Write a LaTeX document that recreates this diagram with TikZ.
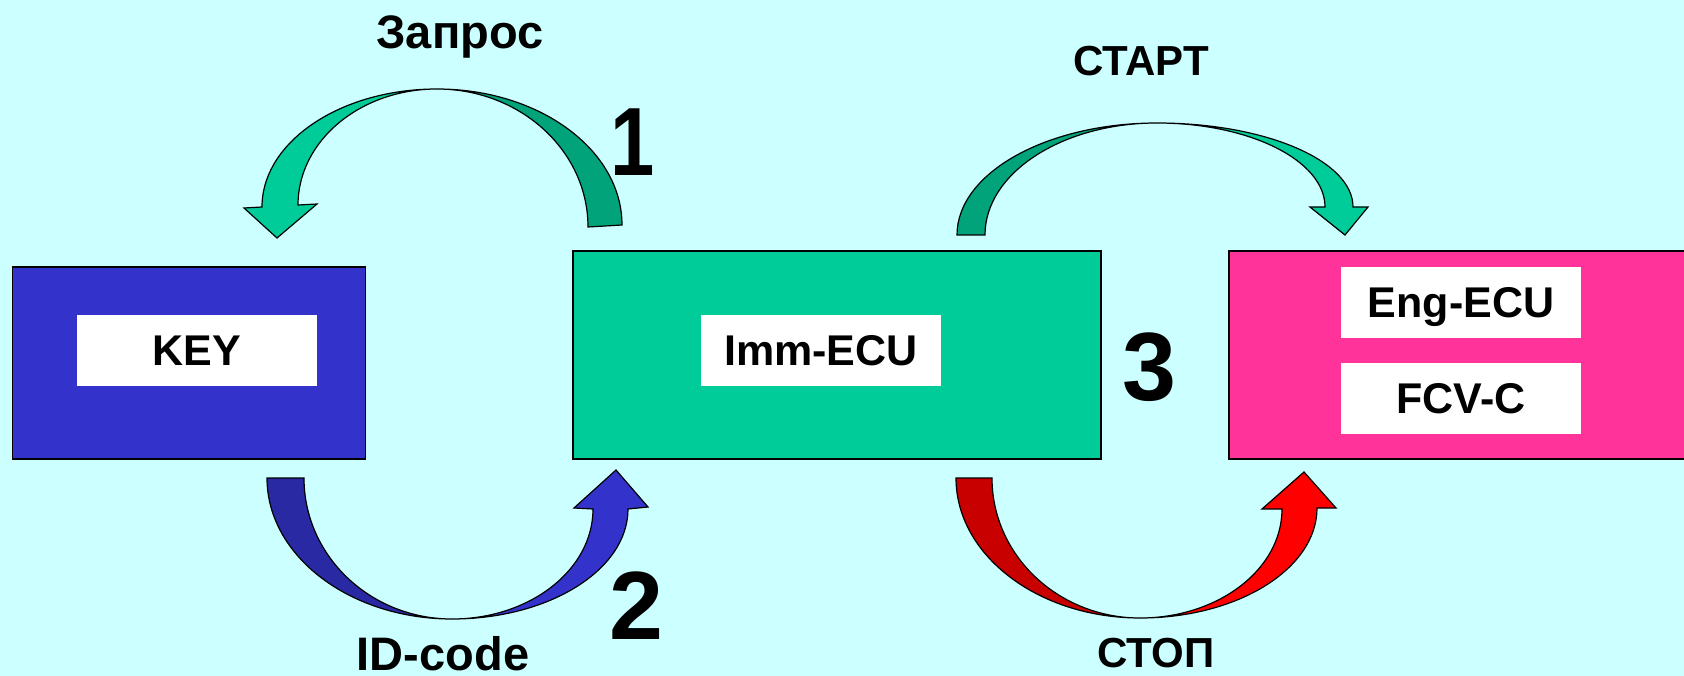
\documentclass[tikz,border=0pt]{standalone}
\usepackage{fontspec}
\setmainfont{Liberation Sans}
\usetikzlibrary{calc}
\definecolor{bg}{HTML}{CCFFFF}
\definecolor{keyblue}{HTML}{3333CC}
\definecolor{darkblue}{HTML}{2929A3}
\definecolor{ecugreen}{HTML}{00CC99}
\definecolor{darkgreen}{HTML}{00A37A}
\definecolor{engpink}{HTML}{FF3399}
\definecolor{lightred}{HTML}{FF0000}
\definecolor{darkred}{HTML}{C80000}
% quarter ellipse: from a horizontal-tangent point to a vertical-tangent point
\newcommand{\qa}[2]{.. controls ($(#1)!0.5523!(#1-|#2)$) and ($(#2)!0.5523!(#1-|#2)$) .. (#2)}
% quarter ellipse: from a vertical-tangent point to a horizontal-tangent point
\newcommand{\qb}[2]{.. controls ($(#1)!0.5523!(#2-|#1)$) and ($(#2)!0.5523!(#2-|#1)$) .. (#2)}
\begin{document}
\begin{tikzpicture}[x=1pt,y=-1pt,
  box/.style={draw=black,line width=1.5pt,inner sep=0pt},
  whitebox/.style={fill=white,inner sep=0pt,minimum width=240pt,minimum height=70.5pt,
    text height=31pt,text depth=0pt,font=\fontsize{43pt}{43pt}\selectfont\bfseries},
  lbl/.style={anchor=base,inner sep=0pt},
  lblmid/.style={lbl,font=\fontsize{42pt}{42pt}\selectfont\bfseries},
  lblbig/.style={lbl,font=\fontsize{47pt}{47pt}\selectfont\bfseries},
  num/.style={lbl,font=\fontsize{97pt}{97pt}\selectfont\bfseries},
  band/.style={draw=black,line width=1.2pt,line join=miter}]
\fill[bg] (0,0) rectangle (1684,676);
\useasboundingbox (0,0) rectangle (1684,676);
\clip (0,0) rectangle (1684,676);

% main boxes
\node[box,fill=keyblue,minimum width=353pt,minimum height=192pt] (keybox) at (189,362.8) {};
\node[box,fill=ecugreen,minimum width=528pt,minimum height=208pt] (immbox) at (837,355) {};
\node[box,fill=engpink,minimum width=471pt,minimum height=208pt] (engbox) at (1464.5,355) {};

\node[whitebox] (key) at (197,350.3) {KEY};
\node[whitebox] (imm) at (821,350.3) {Imm-ECU};
\node[whitebox] (eng) at (1461,302.3) {Eng-ECU};
\node[whitebox] (fcv) at (1461,398.3) {FCV-C};

% labels
\node[lblbig] (zapros) at (460,49) {Запрос};
\node[num] (n1) at (633,176) {\scalebox{0.82}[1]{1}};
\node[lblmid] (start) at (1141,76) {СТАРТ};
\node[num] (n3) at (1149,400) {3};
\node[num] (n2) at (636,639) {2};
\node[lblbig] (idcode) at (443,670.5) {ID-code};
\node[lblmid] (stop) at (1156,667) {СТОП};

% arrow 1 (Imm-ECU -> KEY, top)
\coordinate (a1A) at (437,89);
\coordinate (a1Do) at (622,225); \coordinate (a1Di) at (588,227);
\coordinate (a1Lo) at (262,207); \coordinate (a1Li) at (298,205);
\coordinate (a1Bo) at (244,208); \coordinate (a1T) at (277,238); \coordinate (a1Bi) at (317,204);
\draw[band,fill=ecugreen] (a1A) \qa{a1A}{a1Lo} -- (a1Bo) -- (a1T) -- (a1Bi) -- (a1Li) \qb{a1Li}{a1A} -- cycle;
\draw[band,fill=darkgreen] (a1A) \qa{a1A}{a1Do} -- (a1Di) \qb{a1Di}{a1A} -- cycle;

% arrow 2 (KEY -> Imm-ECU, bottom)
\coordinate (a2A) at (452,619);
\coordinate (a2Do) at (267,478); \coordinate (a2Di) at (304,478);
\coordinate (a2Lo) at (628,509); \coordinate (a2Li) at (593,509);
\coordinate (a2Bo) at (648,507); \coordinate (a2T) at (616,470); \coordinate (a2Bi) at (574,508);
\draw[band,fill=keyblue] (a2A) \qa{a2A}{a2Lo} -- (a2Bo) -- (a2T) -- (a2Bi) -- (a2Li) \qb{a2Li}{a2A} -- cycle;
\draw[band,fill=darkblue] (a2A) \qa{a2A}{a2Do} -- (a2Di) \qb{a2Di}{a2A} -- cycle;

% arrow 3 (Imm-ECU -> Eng, top)
\coordinate (a3A) at (1157,123);
\coordinate (a3Do) at (957,235); \coordinate (a3Di) at (985,235);
\coordinate (a3Lo) at (1353,207); \coordinate (a3Li) at (1325,207);
\coordinate (a3Bo) at (1368,207); \coordinate (a3T) at (1345,235); \coordinate (a3Bi) at (1310,207);
\draw[band,fill=ecugreen] (a3A) \qa{a3A}{a3Lo} -- (a3Bo) -- (a3T) -- (a3Bi) -- (a3Li) \qb{a3Li}{a3A} -- cycle;
\draw[band,fill=darkgreen] (a3A) \qa{a3A}{a3Do} -- (a3Di) \qb{a3Di}{a3A} -- cycle;

% arrow 4 (Imm-ECU -> Eng, bottom)
\coordinate (a4A) at (1140,618);
\coordinate (a4Do) at (956,478); \coordinate (a4Di) at (992,478);
\coordinate (a4Lo) at (1317,508); \coordinate (a4Li) at (1282,509);
\coordinate (a4Bo) at (1336,508); \coordinate (a4T) at (1304,472); \coordinate (a4Bi) at (1262,509);
\draw[band,fill=lightred] (a4A) \qa{a4A}{a4Lo} -- (a4Bo) -- (a4T) -- (a4Bi) -- (a4Li) \qb{a4Li}{a4A} -- cycle;
\draw[band,fill=darkred] (a4A) \qa{a4A}{a4Do} -- (a4Di) \qb{a4Di}{a4A} -- cycle;
\end{tikzpicture}
\end{document}
